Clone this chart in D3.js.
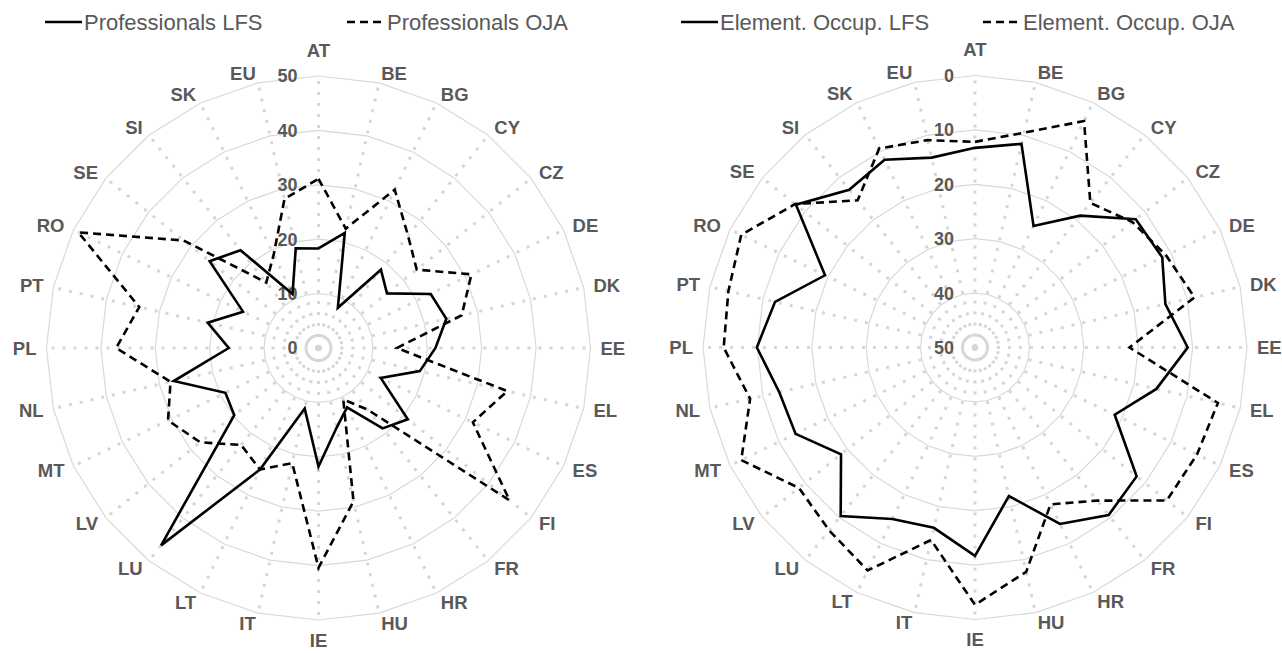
<!DOCTYPE html>
<html>
<head>
<meta charset="utf-8">
<script src="https://cdn.jsdelivr.net/npm/d3@7"></script>
<style>
body { margin: 0; background: #fff; }
text { font-family: "Liberation Sans", Arial, sans-serif; fill: #595959; }
</style>
</head>
<body>
<div id="chart"></div>
<script>
const countries = ["AT","BE","BG","CY","CZ","DE","DK","EE","EL","ES","FI","FR","HR","HU","IE","IT","LT","LU","LV","MT","NL","PL","PT","RO","SE","SI","SK","EU"]

const profLFS = [18.3,21.7,8.2,18.4,16.1,22.9,24.1,21.5,19.1,12.7,21,18.9,12.1,15,21.8,11.4,24.8,46.4,19.8,19,27.3,16.5,20.9,15.4,25.6,23,11,18.8]
const profOJA = [31.1,22.5,32.3,26.4,23.1,31.2,27,14.4,35.6,31.5,44.9,14.5,10.5,28.9,40.4,21.7,24.8,22.8,27.8,30.7,27.9,37.2,33.8,49,31.7,15.4,19,28.1]

const elemLFS = [13.3,11.6,25.2,19,12.2,11.8,14.1,10.9,15.8,21.5,12,10.6,14,22,11.7,16,15,10.4,18.5,13.4,13.1,9.9,12.3,19.4,7.9,12.9,11.7,14.2]
const elemOJA = [12.2,9.5,3.8,16,13,11,8.6,21.6,4.2,4.7,4.9,14,18,7.7,2.7,13.7,4.5,7,8.6,2.3,7.6,3.8,3.5,2.3,7.7,15.4,9.4,10.9]

const tickValues = [0,10,20,30,40,50]

const width = 1282, height = 653
const outerR = 272
const labelR = 282

const svg = d3.select("#chart").append("svg")
	.attr("width", width)
	.attr("height", height)

svg.append("rect").attr("width", width).attr("height", height).attr("fill", "#fff")

// one radar: center, radius scale, two series and legend labels
function drawRadar(cx, cy, rScale, lfs, oja, names, legendX){
	const g = svg.append("g").attr("transform", "translate(" + cx + "," + cy + ")")
	const angle = d3.scaleLinear().domain([0, countries.length]).range([0, 2 * Math.PI])

	// gridline polygons
	tickValues.forEach(t => {
		const r = rScale(t)
		if(r === 0) return
		g.append("path")
			.attr("d", d3.lineRadial().angle((d, i) => angle(i)).radius(r).curve(d3.curveLinearClosed)(countries))
			.attr("fill", "none")
			.attr("stroke", "#d9d9d9")
			.attr("stroke-width", 1.2)
	})

	// dotted spokes
	g.selectAll(".spoke")
		.data(countries)
		.enter().append("line")
		.attr("class", "spoke")
		.attr("x1", 0).attr("y1", 0)
		.attr("x2", (d, i) => outerR * Math.sin(angle(i)))
		.attr("y2", (d, i) => -outerR * Math.cos(angle(i)))
		.attr("stroke", "#d6d6d6")
		.attr("stroke-width", 3)
		.attr("stroke-dasharray", "3,8")

	// value labels
	g.selectAll(".tick")
		.data(tickValues)
		.enter().append("text")
		.attr("class", "tick")
		.attr("x", -21)
		.attr("y", d => -rScale(d))
		.attr("dy", "0.36em")
		.attr("text-anchor", "end")
		.attr("font-size", 18)
		.attr("font-weight", "bold")
		.text(d => d)

	// category labels, left/right aligned like excel does
	g.selectAll(".cat")
		.data(countries)
		.enter().append("text")
		.attr("class", "cat")
		.attr("x", (d, i) => labelR * Math.sin(angle(i)))
		.attr("y", (d, i) => {
			const c = Math.cos(angle(i))
			let y = -labelR * c
			if(c > 0.999) y -= 16
			if(c < -0.999) y += 10
			return y
		})
		.attr("dy", "0.36em")
		.attr("text-anchor", (d, i) => {
			const s = Math.sin(angle(i))
			if(Math.abs(s) < 0.01) return "middle"
			return s > 0 ? "start" : "end"
		})
		.attr("font-size", 18.5)
		.attr("font-weight", "bold")
		.text(d => d)

	const line = d3.lineRadial()
		.angle((d, i) => angle(i))
		.radius(d => rScale(d))
		.curve(d3.curveLinearClosed)

	g.append("path")
		.attr("d", line(oja))
		.attr("fill", "none")
		.attr("stroke", "#000")
		.attr("stroke-width", 2.6)
		.attr("stroke-dasharray", "8,5")

	g.append("path")
		.attr("d", line(lfs))
		.attr("fill", "none")
		.attr("stroke", "#000")
		.attr("stroke-width", 2.6)

	// legend
	const leg = svg.append("g").attr("transform", "translate(" + legendX + ",22)")
	leg.append("line").attr("x1", 0).attr("x2", 37).attr("y1", 0).attr("y2", 0)
		.attr("stroke", "#000").attr("stroke-width", 2.6)
	leg.append("text").attr("x", 39).attr("dy", "0.36em").attr("font-size", 22).text(names[0])
	leg.append("line").attr("x1", 302).attr("x2", 336).attr("y1", 0).attr("y2", 0)
		.attr("stroke", "#000").attr("stroke-width", 2.6).attr("stroke-dasharray", "8,5")
	leg.append("text").attr("x", 342).attr("dy", "0.36em").attr("font-size", 22).text(names[1])
}

const rLeft = d3.scaleLinear().domain([0, 50]).range([0, outerR])
const rRight = d3.scaleLinear().domain([50, 0]).range([0, outerR])

drawRadar(318.5, 348, rLeft, profLFS, profOJA, ["Professionals LFS", "Professionals OJA"], 45)
drawRadar(975, 347.5, rRight, elemLFS, elemOJA, ["Element. Occup. LFS", "Element. Occup. OJA"], 681)
</script>
</body>
</html>
